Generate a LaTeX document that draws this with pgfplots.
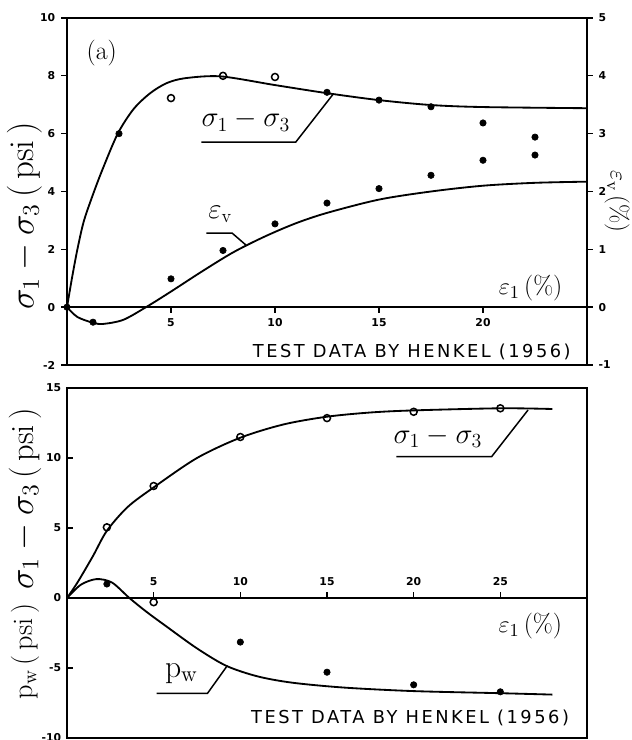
\documentclass[border=0pt]{standalone}
\usepackage{fontspec}
\newfontfamily\plotfont{DejaVu Sans}
\newfontfamily\spacedfont[LetterSpace=14]{DejaVu Sans}
\usepackage{pgfplots}
\pgfplotsset{compat=1.18}

\newcommand\tickfont{\plotfont\bfseries\fontsize{6.5}{7}\selectfont}

\pgfplotsset{
  panel/.style={scale only axis, width=312pt, xmin=0, clip=false,
    axis x line*=middle, axis y line*=left,
    axis line style={line width=1pt, -},
    major tick style={line width=0.8pt, black}, major tick length=3.5pt,
    ticklabel style={font=\tickfont},
    /pgf/number format/assume math mode=true},
  crv/.style={no marks, smooth, tension=0.5, line width=1.1pt, black},
  dot/.style={only marks, mark=*, mark size=1.9pt, black, mark options={fill=black}},
  ring/.style={only marks, mark=o, mark size=2.1pt, black, mark options={line width=0.9pt}},
}

\begin{document}
\begin{tikzpicture}[x=1pt,y=1pt]
\useasboundingbox (0,0) rectangle (378.6,444);

% ---------- top panel (a) ----------
\begin{axis}[panel, at={(40.2pt,225pt)}, anchor=south west, height=208.2pt,
  xmax=25, ymin=-2, ymax=10, ytick={-2,0,2,4,6,8,10}, xtick={5,10,15,20},
  tick align=outside]
  % deviator stress curve
  \addplot[crv] coordinates {(0,0) (0.25,1.05) (0.5,2.0) (0.8,2.95) (1.2,3.8)
    (1.7,4.75) (2.44,6.0) (3.2,6.85) (4.0,7.4) (4.8,7.75) (5.7,7.92) (7.4,7.98)
    (10,7.68) (12.5,7.4) (15,7.16) (17.5,6.99) (20,6.92) (25,6.88)};
  \addplot[ring] coordinates {(5,7.23) (7.5,8.0) (10,7.96)};
  \addplot[dot] coordinates {(0,0) (2.5,6.0) (12.5,7.43) (15,7.16) (17.5,6.93)
    (20,6.37) (22.5,5.88)};
  \draw[line width=1pt] (rel axis cs:0,0) rectangle (rel axis cs:1,1);
  \node[font=\fontsize{15.5}{17}\selectfont] at (axis cs:1.67,8.79) {(a)};
  \node[font=\fontsize{17}{19}\selectfont] at (axis cs:8.6,6.45) {$\sigma_1-\sigma_3$};
  \draw[line width=0.9pt] (axis cs:6.46,5.71) -- (axis cs:11.0,5.71) -- (axis cs:12.8,7.37);
  \node[font=\fontsize{16}{18}\selectfont] at (axis cs:7.37,3.2) {$\varepsilon_{\mathrm{v}}$};
  \draw[line width=0.9pt] (axis cs:6.7,2.56) -- (axis cs:7.94,2.56) -- (axis cs:8.6,2.15);
  \node[anchor=east, font=\fontsize{15.5}{17}\selectfont] at (axis cs:24.1,0.66) {$\varepsilon_1$\,(\%)};
  \node[anchor=east, font=\spacedfont\fontsize{10.7}{12}\selectfont] at (axis cs:24.5,-1.56) {TEST DATA BY HENKEL (1956)};
\end{axis}

\begin{axis}[scale only axis, width=312pt, height=208.2pt, at={(40.2pt,225pt)},
  anchor=south west, xmin=0, xmax=25, ymin=-1, ymax=5, ytick={-1,0,1,2,3,4,5},
  axis x line=none, axis y line*=right, axis line style={line width=1pt, -},
  major tick style={line width=0.8pt, black}, major tick length=3.5pt,
  tick align=outside, ticklabel style={font=\tickfont},
  /pgf/number format/assume math mode=true, clip=false]
  % volumetric strain curve
  \addplot[crv] coordinates {(0,0) (0.5,-0.17) (1.25,-0.27) (1.74,-0.29) (2.7,-0.22)
    (3.8,0) (5,0.27) (6.5,0.62) (8,0.95) (9.5,1.22) (11,1.45) (12.5,1.63)
    (15,1.86) (17.5,2.0) (20,2.1) (22.5,2.15) (25,2.17)};
  \addplot[dot] coordinates {(1.25,-0.26) (5,0.49) (7.5,0.98) (10,1.44) (12.5,1.8)
    (15,2.05) (17.5,2.28) (20,2.54) (22.5,2.63)};
\end{axis}

% ---------- bottom panel ----------
\begin{axis}[panel, at={(40.2pt,1.2pt)}, anchor=south west, height=210pt,
  xmax=30, ymin=-10, ymax=15, ytick={-10,-5,0,5,10,15}, xtick={5,10,15,20,25},
  tick align=inside, xticklabel style={anchor=south, yshift=4pt}]
  \addplot[crv] coordinates {(0,0) (0.6,1.1) (1.5,3.0) (2.3,4.8) (3.5,6.5) (5,7.9)
    (7.5,10.0) (10,11.45) (12.5,12.4) (15,12.95) (17.5,13.25) (20,13.4)
    (25,13.55) (28,13.5)};
  \addplot[ring] coordinates {(2.3,5.05) (5,8.0) (10,11.5) (15,12.85) (20,13.3) (25,13.55)};
  % pore pressure
  \addplot[crv] coordinates {(0,0) (0.8,0.95) (1.7,1.35) (2.6,1.1) (3.6,0) (4.6,-1.0)
    (5.7,-2.0) (7.5,-3.6) (9.2,-4.85) (11,-5.6) (13,-6.05) (16,-6.4) (20,-6.65)
    (25,-6.8) (28,-6.9)};
  \addplot[dot] coordinates {(2.3,1.0) (10,-3.15) (15,-5.3) (20,-6.2) (25,-6.7)};
  \addplot[ring] coordinates {(5,-0.3)};
  \draw[line width=1pt] (rel axis cs:0,0) rectangle (rel axis cs:1,1);
  \node[font=\fontsize{17}{19}\selectfont] at (axis cs:21.4,11.5) {$\sigma_1-\sigma_3$};
  \draw[line width=0.9pt] (axis cs:19.0,10.1) -- (axis cs:24.5,10.1) -- (axis cs:26.6,13.43);
  \node[font=\fontsize{19}{21}\selectfont] at (axis cs:6.6,-5.4) {p$_{\mathrm{w}}$};
  \draw[line width=0.9pt] (axis cs:5.17,-6.82) -- (axis cs:8.1,-6.82) -- (axis cs:9.25,-4.83);
  \node[anchor=east, font=\fontsize{15.5}{17}\selectfont] at (axis cs:28.9,-2.0) {$\varepsilon_1$\,(\%)};
  \node[anchor=east, font=\spacedfont\fontsize{10.7}{12}\selectfont] at (axis cs:29.3,-8.6) {TEST DATA BY HENKEL (1956)};
\end{axis}

% axis titles
\node[rotate=90, font=\fontsize{21}{23}\selectfont] at (15,314.4) {$\sigma_1-\sigma_3$\,(\,psi\,)};
\node[rotate=-90, font=\fontsize{15}{17}\selectfont] at (370.2,323) {$\varepsilon_{\mathrm{v}}$\,(\%)};
\node[rotate=90, font=\fontsize{19.5}{21}\selectfont] at (15,144.6) {$\sigma_1-\sigma_3$\,(\,psi\,)};
\node[rotate=90, font=\fontsize{17}{19}\selectfont] at (15,53.1) {p$_{\mathrm{w}}$\,(\,psi\,)};
\end{tikzpicture}
\end{document}
